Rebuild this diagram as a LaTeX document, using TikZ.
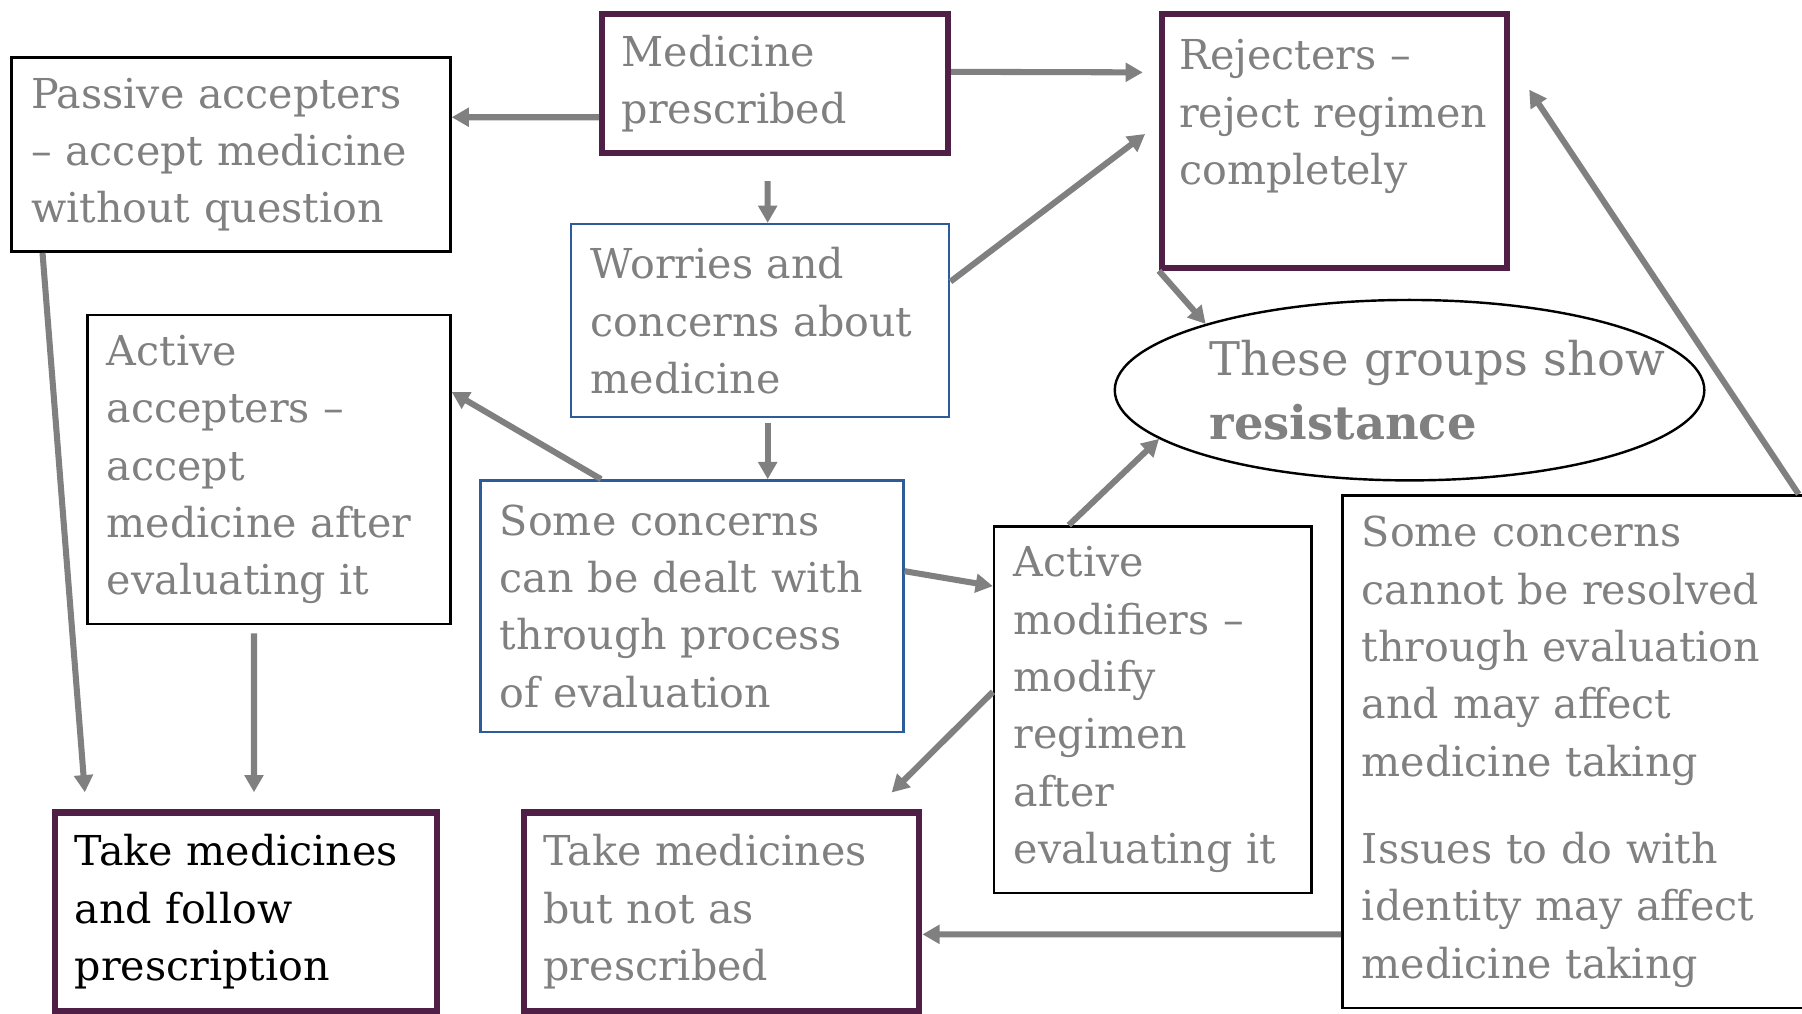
\documentclass[tikz,border=0pt]{standalone}
\usepackage{fontspec}
\setmainfont{DejaVu Serif}
\usetikzlibrary{arrows.meta, shapes.geometric}
\definecolor{plum}{HTML}{501F48}
\definecolor{boxblue}{HTML}{2E5B9A}
\definecolor{txtgray}{HTML}{808080}

\begin{document}
\begin{tikzpicture}[
  every node/.style={font=\fontsize{10.2}{14.2}\selectfont, text=txtgray},
  box/.style={draw, line width=0.6pt, align=left, inner xsep=0.17cm, inner ysep=0pt},
  endbox/.style={box, draw=plum, line width=1.5pt},
  worrybox/.style={box, draw=boxblue, line width=0.6pt},
  arr/.style={-{Triangle[length=1.5mm, width=1.6mm]}, draw=txtgray, line width=1.5pt}
]
  \useasboundingbox (0,0) rectangle (15.68,8.82);
  \clip (0,0) rectangle (15.68,8.82);

  % Explicit coordinates: picture is 15.68 x 8.82 cm
  \node[endbox, text width=2.67cm, minimum height=1.21cm] (med) at (6.745,8.095)
       {Medicine\\prescribed};
  \node[endbox, inner xsep=0.15cm, text width=2.70cm, minimum height=2.21cm] (rej) at (11.61,7.595)
       {Rejecters --\\reject regimen\\completely\\~};
  \node[box, text width=3.48cm, minimum height=1.69cm] (passive) at (2.01,7.475)
       {Passive accepters\\-- accept medicine\\without question};
  \node[worrybox, text width=2.95cm, minimum height=1.68cm] (worries) at (6.615,6.03)
       {Worries and\\concerns about\\medicine};
  \node[box, text width=2.82cm, minimum height=2.69cm] (actacc) at (2.34,4.735)
       {Active\\accepters --\\accept\\medicine after\\evaluating it};
  \node[worrybox, text width=3.34cm, minimum height=2.19cm] (dealt) at (6.02,3.545)
       {Some concerns\\can be dealt with\\through process\\of evaluation};
  \node[draw, ellipse, line width=0.6pt, minimum width=5.13cm, minimum height=1.57cm,
        inner sep=0pt, text width=3.48cm, align=left,
        font=\fontsize{11.5}{15.6}\selectfont] (ell) at (12.265,5.425)
       {\mbox{These groups show}\\\textbf{resistance}};
  \node[box, text width=2.42cm, minimum height=3.19cm] (actmod) at (10.03,2.645)
       {Active\\modifiers --\\modify\\regimen\\after\\evaluating it};
  \node[box, text width=3.70cm, minimum height=4.46cm] (unres) at (13.70,2.28)
       {Some concerns\\cannot be resolved\\through evaluation\\and may affect\\medicine taking\\[0.26cm]
        Issues to do with\\identity may affect\\medicine taking};
  \node[endbox, text=black, text width=2.98cm, minimum height=1.73cm] (follow) at (2.14,0.885)
       {Take medicines\\and follow\\prescription};
  \node[endbox, text width=3.10cm, minimum height=1.73cm] (notpres) at (6.28,0.885)
       {Take medicines\\but not as\\prescribed};

  % From the prescription
  \draw[arr] ([yshift=-2.95mm]med.west) -- ([yshift=3.25mm]passive.east);
  \draw[arr, shorten >=1.4mm] ([yshift=1mm]med.east) -- ([yshift=5.95mm]rej.west);
  \draw[arr, shorten <=2.2mm] ([xshift=-0.65mm]med.south) -- ([xshift=0.65mm]worries.north);

  % Worries and their outcomes
  \draw[arr, shorten >=1.5mm] ([yshift=3.4mm]worries.east) -- ([yshift=1.5mm]rej.west);
  \draw[arr, shorten <=0.4mm] ([xshift=0.65mm]worries.south) -- ([xshift=6.6mm]dealt.north);
  \draw[arr] ([xshift=-7.9mm]dealt.north) -- ([yshift=6.75mm]actacc.east);
  \draw[arr] ([yshift=3.05mm]dealt.east) -- ([yshift=10.75mm]actmod.west);

  % Resistance
  \draw[arr] ([xshift=-7.3mm]actmod.north) -- (ell.191);
  \draw[arr] (rej.south west) -- (ell.162);
  \draw[arr] ([xshift=19.5mm]unres.north) -- ([xshift=1.7mm,yshift=4.45mm]rej.east);

  % Medicine taking
  \draw[arr, shorten >=2.1mm] ([yshift=1.55mm]actmod.west) -- ([xshift=13.3mm]notpres.north);
  \draw[arr] ([yshift=-15.9mm]unres.west) -- ([yshift=-1.95mm]notpres.east);
  \draw[arr, shorten >=1.5mm] ([xshift=-16.4mm]passive.south) -- ([xshift=-13.9mm]follow.north);
  \draw[arr, shorten <=0.7mm, shorten >=1.5mm] ([xshift=-1.3mm]actacc.south) -- ([xshift=0.7mm]follow.north);
\end{tikzpicture}
\end{document}
